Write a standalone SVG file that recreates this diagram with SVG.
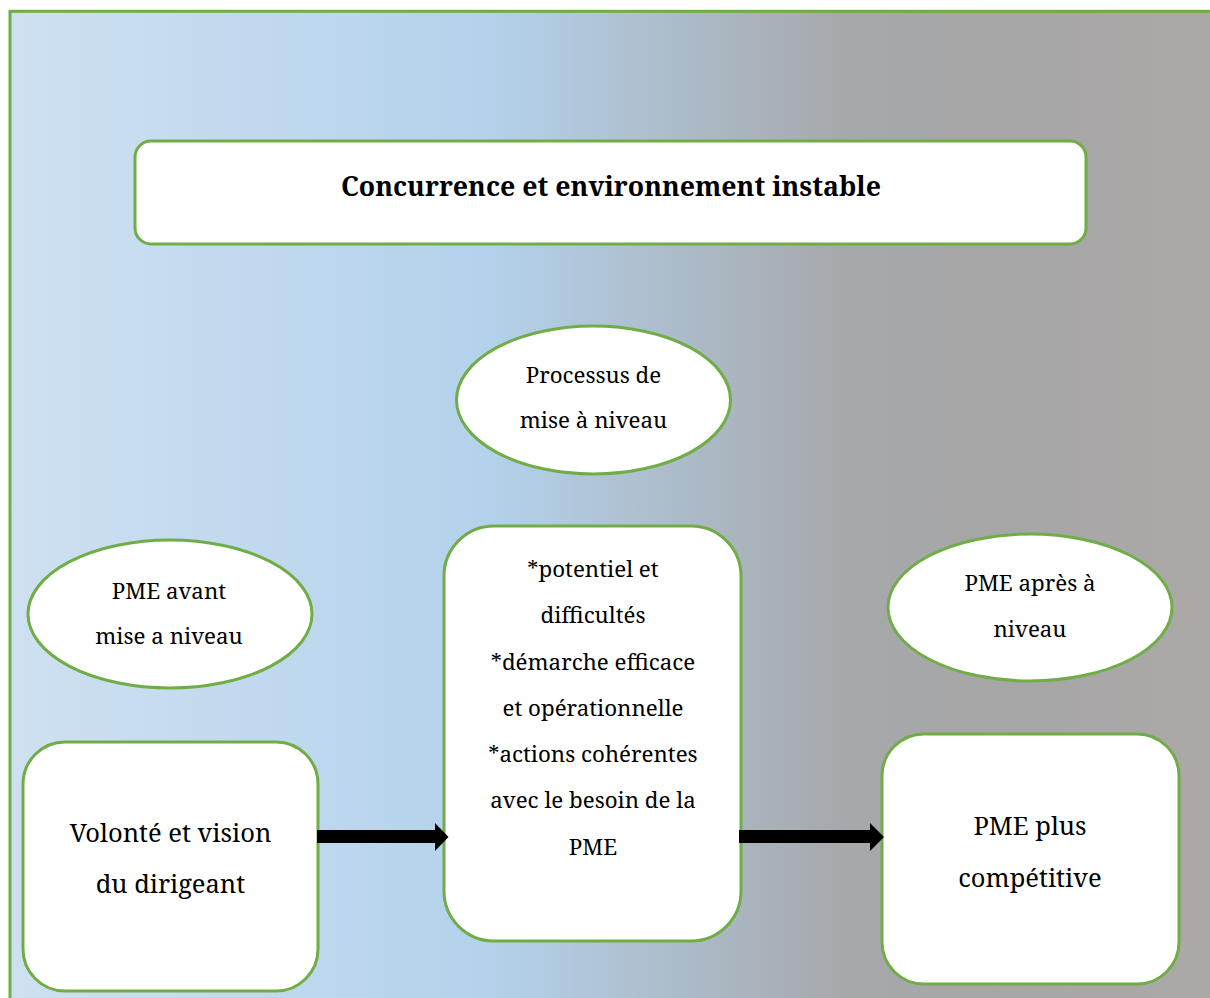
<svg xmlns="http://www.w3.org/2000/svg" width="1210" height="998" viewBox="0 0 1210 998">
  <style>
    .node { fill: #ffffff; stroke: #70ad47; stroke-width: 3; }
    .txt { font-family: 'Noto Serif', 'DejaVu Serif', serif; fill: #000000; text-anchor: middle; }
    .t26 { font-size: 22.3px; }
    .t29 { font-size: 25.5px; }
    .title { font-size: 26.7px; font-weight: bold; }
    .arrow { fill: #000000; }
  </style>
  <defs>
    <linearGradient id="bg" x1="0" y1="0" x2="1210" y2="0" gradientUnits="userSpaceOnUse">
      <stop offset="0" stop-color="#cfe1f1"/>
      <stop offset="0.40" stop-color="#b4d2ec"/>
      <stop offset="0.70" stop-color="#a6a8ab"/>
      <stop offset="0.82" stop-color="#a6a6a6"/>
      <stop offset="1" stop-color="#aca8a8"/>
    </linearGradient>
  </defs>

  <!-- white page -->
  <rect x="0" y="0" width="1210" height="998" fill="#ffffff"/>
  <!-- background panel -->
  <rect x="10" y="11.3" width="1220" height="1010" fill="url(#bg)" stroke="#70ad47" stroke-width="3"/>

  <!-- title -->
  <g id="title">
    <rect class="node" x="135" y="141" width="951" height="103" rx="16"/>
    <text class="txt title" x="611" y="196">Concurrence et environnement instable</text>
  </g>

  <!-- process label -->
  <g id="processus">
    <ellipse class="node" cx="593.5" cy="400" rx="137" ry="74"/>
    <text class="txt t26" x="593.5" y="383">Processus de</text>
    <text class="txt t26" x="593.5" y="428">mise à niveau</text>
  </g>

  <g id="pme-avant">
    <ellipse class="node" cx="170" cy="614" rx="142" ry="74"/>
    <text class="txt t26" x="169" y="599">PME avant</text>
    <text class="txt t26" x="169" y="644">mise a niveau</text>
  </g>

  <g id="pme-apres">
    <ellipse class="node" cx="1030" cy="607.5" rx="142" ry="73.5"/>
    <text class="txt t26" x="1030" y="591">PME après à</text>
    <text class="txt t26" x="1030" y="637">niveau</text>
  </g>

  <g id="volonte">
    <rect class="node" x="23" y="742" width="295" height="249" rx="42"/>
    <text class="txt t29" x="170.5" y="842">Volonté et vision</text>
    <text class="txt t29" x="170.5" y="893">du dirigeant</text>
  </g>

  <g id="demarche">
    <rect class="node" x="444" y="526" width="297" height="415" rx="50"/>
    <text class="txt t26" x="593" y="577">*potentiel et</text>
    <text class="txt t26" x="593" y="623">difficultés</text>
    <text class="txt t26" x="593" y="670">*démarche efficace</text>
    <text class="txt t26" x="593" y="716">et opérationnelle</text>
    <text class="txt t26" x="593" y="762">*actions cohérentes</text>
    <text class="txt t26" x="593" y="808">avec le besoin de la</text>
    <text class="txt t26" x="593" y="855">PME</text>
  </g>

  <g id="pme-competitive">
    <rect class="node" x="882" y="734" width="297" height="250" rx="42"/>
    <text class="txt t29" x="1030" y="835">PME plus</text>
    <text class="txt t29" x="1030" y="887">compétitive</text>
  </g>

  <!-- connectors: block arrows -->
  <g id="connectors">
    <polygon class="arrow" points="317,830 435,830 435,823 448.5,837 435,851 435,843 317,843"/>
    <polygon class="arrow" points="739,830 870,830 870,823 884,837 870,851 870,843 739,843"/>
  </g>
</svg>
